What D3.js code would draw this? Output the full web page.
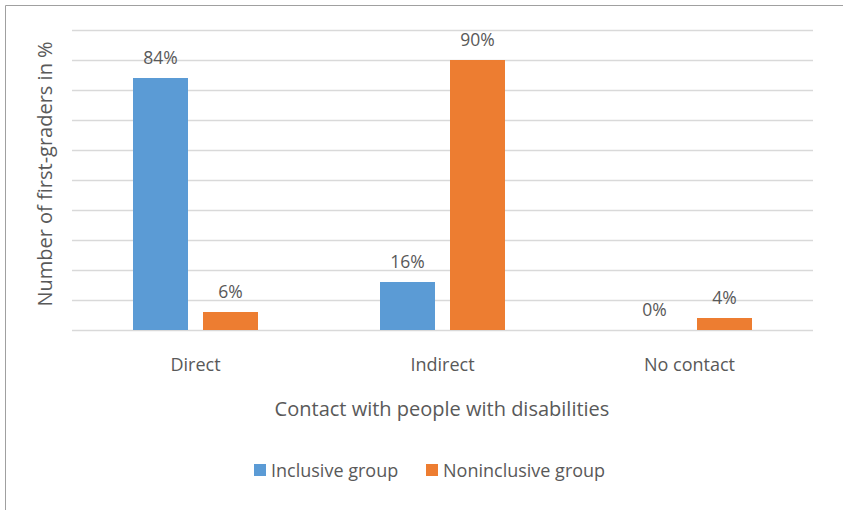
<!DOCTYPE html>
<html><head><meta charset="utf-8">
<script src="https://cdn.jsdelivr.net/npm/d3@7"></script>
<style>body{margin:0;background:#fff}svg{display:block}text{font-family:"Open Sans",sans-serif;fill:#595959}</style>
</head><body>
<svg id="c" width="843" height="510"></svg>
<script>
const categories = ["Direct", "Indirect", "No contact"];
const seriesNames = ["Inclusive group", "Noninclusive group"];
const inclusive = [84, 16, 0];
const noninclusive = [6, 90, 4];
const yTicks = [0, 10, 20, 30, 40, 50, 60, 70, 80, 90, 100];
const colors = ["#5B9BD5", "#ED7D31"];

const svg = d3.select("#c");
svg.append("path").attr("d", "M5.5,510 V5.5 H843").attr("fill", "none").attr("stroke", "#a0a0a0").attr("stroke-width", 1);

const x0 = d3.scaleBand().domain(categories).range([72, 813]).paddingInner(0).paddingOuter(0);
const y = d3.scaleLinear().domain([0, 100]).range([330, 30]);
const x1 = d3.scaleBand().domain(seriesNames).range([0, 125]).paddingInner(15/70).paddingOuter(0);

svg.append("g").selectAll("line").data(yTicks).join("line")
  .attr("x1", 72).attr("x2", 813)
  .attr("y1", d => Math.round(y(d)) + 0.5).attr("y2", d => Math.round(y(d)) + 0.5)
  .attr("stroke", "#d9d9d9").attr("stroke-width", 1.3);

const data = categories.map((c, i) => ({cat: c, vals: [inclusive[i], noninclusive[i]]}));
const groups = svg.append("g").selectAll("g").data(data).join("g")
  .attr("transform", d => `translate(${x0(d.cat) + (x0.bandwidth() - 125) / 2},0)`);

groups.selectAll("rect").data(d => d.vals.map((v, j) => ({v, s: seriesNames[j], j}))).join("rect")
  .attr("x", d => x1(d.s)).attr("width", x1.bandwidth())
  .attr("y", d => y(d.v)).attr("height", d => y(0) - y(d.v))
  .attr("fill", d => colors[d.j]);

groups.selectAll("text").data(d => d.vals.map((v, j) => ({v, s: seriesNames[j], j}))).join("text")
  .attr("x", d => x1(d.s) + x1.bandwidth() / 2)
  .attr("y", d => y(d.v) - 14)
  .attr("text-anchor", "middle").attr("font-size", 17.5)
  .text(d => d.v + "%");

const xAxis = d3.axisBottom(x0).tickSize(0).tickPadding(0);
const gx = svg.append("g").attr("transform", "translate(0,371)").call(xAxis);
gx.select(".domain").remove();
gx.selectAll("text").attr("font-size", 18).attr("dy", 0).attr("fill", "#595959").attr("font-family", "Open Sans");

svg.append("text").attr("x", 442).attr("y", 416).attr("text-anchor", "middle").attr("font-size", 20)
  .text("Contact with people with disabilities");
svg.append("text").attr("transform", "translate(52,174) rotate(-90)").attr("text-anchor", "middle").attr("font-size", 20)
  .text("Number of first-graders  in %");

const legendX = [254, 426];
const lg = svg.append("g").selectAll("g").data(seriesNames).join("g")
  .attr("transform", (d, i) => `translate(${legendX[i]},464)`);
lg.append("rect").attr("width", 12).attr("height", 12).attr("fill", (d, i) => colors[i]);
lg.append("text").attr("x", 17).attr("y", 12.5).attr("font-size", 18).text(d => d);
</script>
</body></html>
